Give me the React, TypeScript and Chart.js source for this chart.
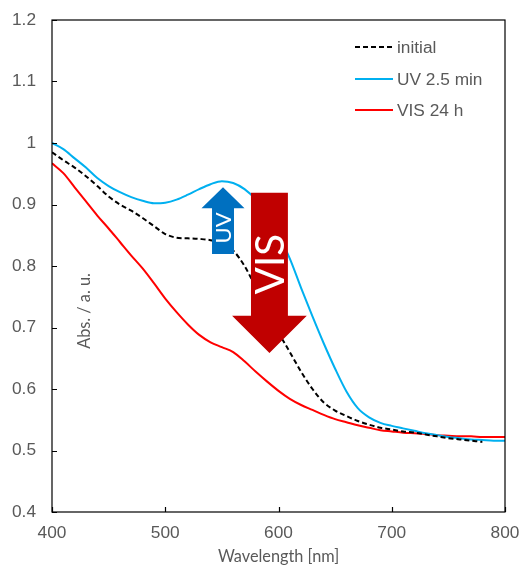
import React, { useEffect, useRef } from "react";
import { Chart, registerables } from "chart.js";

Chart.register(...registerables);

const wavelengths = [
  400, 410, 420, 430, 440, 450, 460, 470, 480, 490, 500, 510, 520, 530, 540, 550, 560, 570, 580, 590,
  600, 610, 620, 630, 640, 650, 660, 670, 680, 690, 700, 710, 720, 730, 740, 750, 760, 770, 780, 790, 800,
];

const initialValues = [
  0.985, 0.972, 0.96, 0.946, 0.93, 0.913, 0.9, 0.89, 0.878, 0.865, 0.852, 0.846, 0.845, 0.844, 0.842,
  0.836, 0.825, 0.8, 0.765, 0.728, 0.692, 0.66, 0.628, 0.6, 0.578, 0.565, 0.556, 0.548, 0.542, 0.537,
  0.534, 0.531, 0.529, 0.526, 0.523, 0.52, 0.518, 0.516, 0.514, null, null,
];

const uvValues = [
  1.0, 0.99, 0.975, 0.96, 0.943, 0.93, 0.92, 0.912, 0.906, 0.902, 0.903, 0.908, 0.916, 0.925, 0.933,
  0.938, 0.935, 0.925, 0.908, 0.882, 0.85, 0.812, 0.764, 0.718, 0.674, 0.633, 0.596, 0.569, 0.554,
  0.545, 0.54, 0.536, 0.532, 0.528, 0.525, 0.522, 0.52, 0.518, 0.517, 0.516, 0.516,
];

const visValues = [
  0.967, 0.951, 0.928, 0.905, 0.882, 0.861, 0.839, 0.817, 0.796, 0.772, 0.747, 0.725, 0.705, 0.688,
  0.676, 0.668, 0.66, 0.645, 0.628, 0.612, 0.597, 0.584, 0.574, 0.566, 0.558, 0.551, 0.546, 0.541,
  0.537, 0.533, 0.531, 0.529, 0.528, 0.527, 0.525, 0.524, 0.523, 0.523, 0.522, 0.522, 0.522,
];

const seriesNames = ["initial", "UV 2.5 min", "VIS 24 h"];
const seriesColors = ["#000000", "#00B0F0", "#FF0000"];
const yTickLabels = ["0.4", "0.5", "0.6", "0.7", "0.8", "0.9", "1", "1.1", "1.2"];
const xTickLabels = ["400", "500", "600", "700", "800"];

const TEXT = "#595959";

const toPoints = (vals: (number | null)[]) =>
  wavelengths.map((w, i) => ({ x: w, y: vals[i] }));

const decorPlugin = {
  id: "decor",
  afterDatasetsDraw(chart: any) {
    const { ctx, scales } = chart;
    const xs = scales.x;
    const ys = scales.y;
    const px = (v: number) => xs.getPixelForValue(v);
    const py = (v: number) => ys.getPixelForValue(v);

    const arrow = (
      cx: number, tail: number, headBase: number, tip: number,
      bodyHalf: number, headHalf: number, color: string
    ) => {
      const xc = px(cx);
      const bh = px(cx + bodyHalf) - xc;
      const hh = px(cx + headHalf) - xc;
      ctx.save();
      ctx.beginPath();
      ctx.moveTo(xc - bh, py(tail));
      ctx.lineTo(xc - bh, py(headBase));
      ctx.lineTo(xc - hh, py(headBase));
      ctx.lineTo(xc, py(tip));
      ctx.lineTo(xc + hh, py(headBase));
      ctx.lineTo(xc + bh, py(headBase));
      ctx.lineTo(xc + bh, py(tail));
      ctx.closePath();
      ctx.fillStyle = color;
      ctx.fill();
      ctx.restore();
    };

    arrow(551, 0.8195, 0.894, 0.928, 9.7, 19, "#0070C0");
    arrow(592, 0.919, 0.719, 0.6585, 16.3, 33, "#C00000");

    const vText = (t: string, x: number, y: number, font: string) => {
      ctx.save();
      ctx.translate(x, y);
      ctx.rotate(-Math.PI / 2);
      ctx.fillStyle = "#FFFFFF";
      ctx.font = font;
      ctx.textAlign = "center";
      ctx.textBaseline = "middle";
      ctx.fillText(t, 0, 0);
      ctx.restore();
    };
    vText("UV", px(551) + 1, py(0.862), "22px Lato");
    vText("VIS", px(592) + 2, py(0.803), "40px Lato");
  },
  afterDraw(chart: any) {
    const { ctx, chartArea, scales } = chart;
    const { left, right, top, bottom } = chartArea;
    ctx.save();
    ctx.strokeStyle = "#000000";
    ctx.lineWidth = 1.2;
    ctx.strokeRect(left, top, right - left, bottom - top);
    ctx.beginPath();
    scales.y.ticks.forEach((t: any) => {
      const y = Math.round(scales.y.getPixelForValue(t.value)) + 0.5;
      ctx.moveTo(left, y);
      ctx.lineTo(left + 5, y);
    });
    scales.x.ticks.forEach((t: any) => {
      const x = Math.round(scales.x.getPixelForValue(t.value)) + 0.5;
      ctx.moveTo(x, bottom);
      ctx.lineTo(x, bottom - 5);
    });
    ctx.stroke();

    const legY = [47, 79, 110];
    ctx.font = "17.3px 'Liberation Sans', Arial";
    ctx.textBaseline = "middle";
    ctx.textAlign = "left";
    seriesNames.forEach((name, i) => {
      ctx.beginPath();
      ctx.strokeStyle = seriesColors[i];
      ctx.lineWidth = 2;
      ctx.setLineDash(i === 0 ? [5, 3] : []);
      ctx.moveTo(355, legY[i]);
      ctx.lineTo(393, legY[i]);
      ctx.stroke();
      ctx.setLineDash([]);
      ctx.fillStyle = TEXT;
      ctx.fillText(name, 397, legY[i] + 1);
    });

    ctx.fillStyle = TEXT;
    ctx.font = "16.3px Lato";
    ctx.textAlign = "center";
    ctx.textBaseline = "middle";
    ctx.fillText("Wavelength [nm]", (left + right) / 2, 557);
    ctx.save();
    ctx.translate(85, 311);
    ctx.rotate(-Math.PI / 2);
    ctx.fillText("Abs. / a. u.", 0, 0);
    ctx.restore();
    ctx.restore();
  },
};

export default function App() {
  const ref = useRef<HTMLCanvasElement | null>(null);
  useEffect(() => {
    if (!ref.current) return;
    const common = {
      borderWidth: 2,
      pointRadius: 0,
      cubicInterpolationMode: "monotone" as const,
      fill: false,
    };
    const chart = new Chart(ref.current, {
      type: "line",
      data: {
        datasets: [
          { ...common, label: seriesNames[0], data: toPoints(initialValues), borderColor: seriesColors[0], borderDash: [5, 3] },
          { ...common, label: seriesNames[1], data: toPoints(uvValues), borderColor: seriesColors[1] },
          { ...common, label: seriesNames[2], data: toPoints(visValues), borderColor: seriesColors[2] },
        ],
      },
      options: {
        responsive: false,
        animation: false,
        devicePixelRatio: 1,
        layout: { padding: { top: 20, right: 19, left: 0, bottom: 0 } },
        plugins: { legend: { display: false }, tooltip: { enabled: false }, title: { display: false } },
        scales: {
          x: {
            type: "linear",
            min: 400,
            max: 800,
            grid: { display: false, drawTicks: false },
            border: { display: false },
            ticks: {
              stepSize: 100,
              padding: 11,
              color: TEXT,
              font: { family: "'Liberation Sans', Arial", size: 17.3 },
              maxRotation: 0,
              callback: (v: any) => xTickLabels[Math.round((Number(v) - 400) / 100)] ?? "",
            },
            afterFit: (s: any) => {
              s.height = 54;
              s.paddingLeft = 0;
              s.paddingRight = 0;
            },
          },
          y: {
            type: "linear",
            min: 0.4,
            max: 1.2,
            grid: { display: false, drawTicks: false },
            border: { display: false },
            ticks: {
              stepSize: 0.1,
              padding: 16,
              color: TEXT,
              font: { family: "'Liberation Sans', Arial", size: 17.3 },
              callback: (v: any) => yTickLabels[Math.round((Number(v) - 0.4) * 10)] ?? "",
            },
            afterFit: (s: any) => {
              s.width = 52;
              s.paddingTop = 0;
              s.paddingBottom = 0;
            },
          },
        },
      },
      plugins: [decorPlugin],
    });
    return () => chart.destroy();
  }, []);
  return (
    <div style={{ position: "absolute", left: 0, top: 0, width: 524, height: 566, background: "#fff" }}>
      <canvas ref={ref} width={524} height={566} style={{ width: 524, height: 566 }} />
    </div>
  );
}
